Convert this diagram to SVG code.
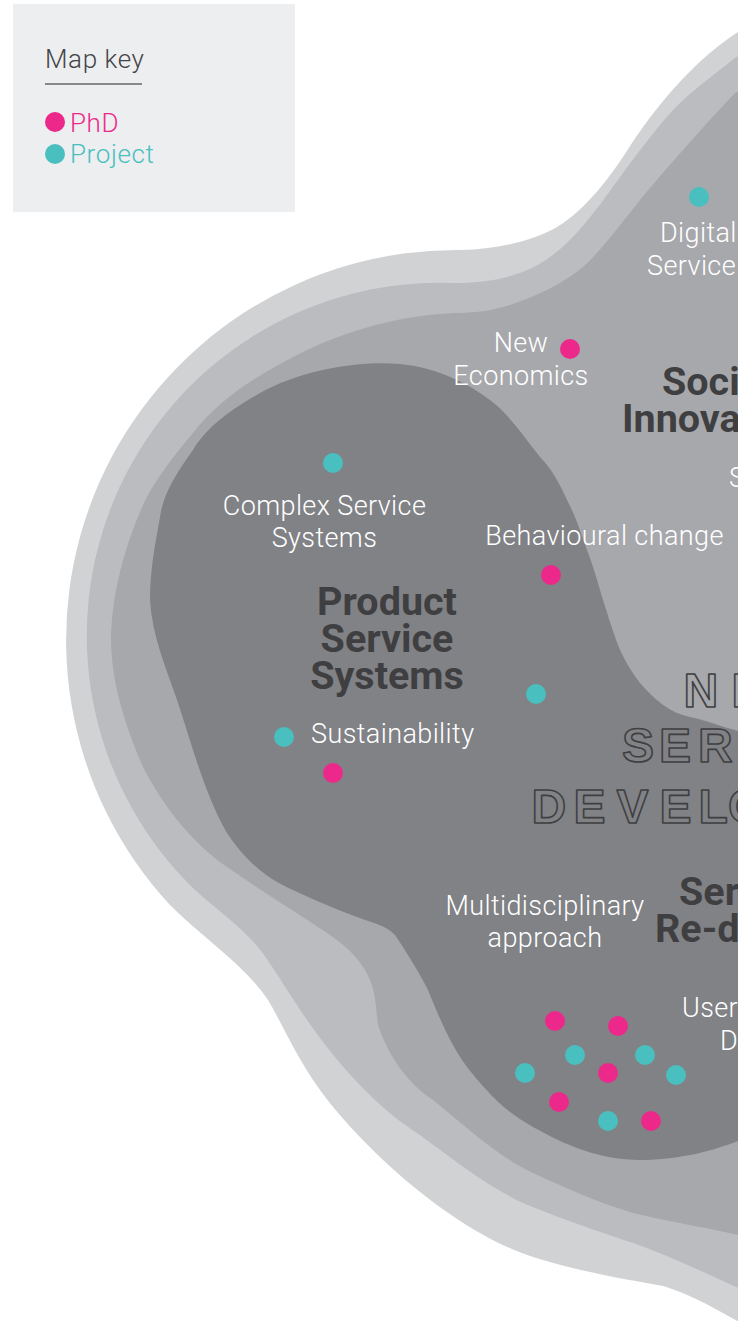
<svg xmlns="http://www.w3.org/2000/svg" width="738" height="1321" viewBox="0 0 738 1321">
<style>
.lbl{font-family:Roboto,"Liberation Sans",sans-serif;font-weight:300;font-size:27px;letter-spacing:0.4px;fill:#ffffff}
.ttl{font-family:Roboto,"Liberation Sans",sans-serif;font-weight:700;font-size:39.5px;fill:#3f3f41}
.nsd{font-family:"Liberation Sans",Arial,sans-serif;font-weight:700;font-size:48px;fill:none;stroke:#3f3f41;stroke-width:1.6;stroke-linejoin:round}
.key{font-family:Roboto,"Liberation Sans",sans-serif;font-weight:300;font-size:26px;letter-spacing:0.6px}
.phd{fill:#ec298b}
.prj{fill:#4abfbf}
.mid{text-anchor:middle}
</style>
<rect width="738" height="1321" fill="#ffffff"/>
<g id="layers">
<path id="layer1" fill="#d1d2d4" d="M760,12 L738,32 C700,56 660,100 630,146 C610,178 585,210 557,227 C535,240 500,249 460,250 A390,390 0 0 0 170,905 C205,940 245,965 268,1000 C283,1025 295,1055 320,1090 C360,1145 450,1230 533,1257 C580,1272 630,1280 663,1286 C690,1294 715,1308 760,1334 Z"/>
<path id="layer2" fill="#bbbcc0" d="M760,42 L735,58 C710,78 690,92 673,110 C655,130 640,150 623,173 C600,205 575,240 550,257 C530,272 500,283 455,283 A353,353 0 0 0 195,890 C220,912 245,930 262,952 C278,975 290,995 305,1017 C340,1068 380,1110 420,1135 C460,1165 500,1195 533,1207 C570,1222 600,1232 633,1243 C670,1256 710,1275 760,1298 Z"/>
<path id="layer3" fill="#a7a8ac" d="M760,80 L735,93 C700,130 665,170 640,200 C620,225 600,252 583,267 C565,282 540,295 510,305 C490,311 475,313 455,313 C390,316 335,335 293,357 C245,382 215,405 193,433 C170,460 152,485 143,505 C125,545 113,590 111,633 C110,680 125,725 143,767 C165,810 195,845 227,867 C260,890 300,915 327,933 C345,945 362,960 370,980 C376,995 376,1010 378,1025 C390,1060 410,1085 433,1100 C470,1130 500,1158 533,1173 C570,1190 600,1203 633,1213 C670,1222 710,1228 760,1240 Z"/>
<path id="core" fill="#818286" d="M760,737 L738,731 C720,726 705,720 690,717 C670,713 655,700 640,683 C630,670 625,660 620,650 C612,630 608,615 603,600 C597,580 593,565 587,550 C580,530 575,515 567,500 C558,480 550,467 540,457 C525,438 510,415 490,400 C470,385 440,368 400,364 C360,360 300,370 260,393 C225,413 205,430 193,450 C175,475 163,495 160,517 C155,545 150,570 150,600 C152,635 165,665 177,700 C192,745 205,795 227,833 C245,860 265,878 293,890 C320,903 350,915 377,924 C385,927 390,930 395,935 C405,950 418,970 428,990 C440,1020 452,1047 467,1067 C485,1090 505,1112 533,1127 C565,1145 600,1160 640,1160 C680,1160 715,1150 738,1141 L760,1135 Z"/>
</g>
<g id="legend">
<rect x="13" y="4" width="282" height="208" fill="#edeef0"/>
<text class="key" x="45" y="68" fill="#444446">Map key</text>
<line x1="45" y1="84" x2="142" y2="84" stroke="#666668" stroke-width="1.5"/>
<circle class="phd" cx="55" cy="122" r="10"/>
<text class="key phd" x="70" y="132">PhD</text>
<circle class="prj" cx="55" cy="154" r="10"/>
<text class="key prj" x="70" y="163">Project</text>
</g>
<g id="social-innovation">
<text class="ttl" x="662" y="395">Soci</text>
<text class="ttl" x="622" y="432">Innova</text>
<text class="lbl" x="729" y="487">S</text>
</g>
<g id="digital-services">
<circle class="prj" cx="699" cy="197" r="10"/>
<text class="lbl" x="660" y="242">Digital</text>
<text class="lbl" x="647" y="275">Service</text>
</g>
<g id="new-economics">
<text class="lbl mid" x="521" y="352">New</text>
<text class="lbl mid" x="521" y="385">Economics</text>
<circle class="phd" cx="570" cy="349" r="10"/>
</g>
<g id="complex-service-systems">
<circle class="prj" cx="333" cy="463" r="10"/>
<text class="lbl mid" x="324.5" y="515">Complex Service</text>
<text class="lbl mid" x="324.5" y="547">Systems</text>
</g>
<g id="behavioural-change">
<text class="lbl mid" x="604.5" y="545">Behavioural change</text>
<circle class="phd" cx="551" cy="575" r="10"/>
<circle class="prj" cx="536" cy="694" r="10"/>
</g>
<g id="product-service-systems">
<text class="ttl mid" x="387" y="615">Product</text>
<text class="ttl mid" x="387" y="652">Service</text>
<text class="ttl mid" x="387" y="689">Systems</text>
</g>
<g id="sustainability">
<circle class="prj" cx="284" cy="737" r="10"/>
<text class="lbl" x="311" y="743">Sustainability</text>
<circle class="phd" cx="333" cy="773" r="10"/>
</g>
<g id="new-service-development">
<text class="nsd" x="683.5 731.5" y="707">NE</text>
<text class="nsd" x="622 659 698" y="762">SER</text>
<text class="nsd" x="531.5 573.5 616.5 659.5 698.5 728" y="823">DEVELO</text>
</g>
<g id="service-redesign">
<text class="ttl" x="679" y="905">Ser</text>
<text class="ttl" x="655" y="942">Re-d</text>
</g>
<g id="multidisciplinary">
<text class="lbl mid" x="545" y="915">Multidisciplinary</text>
<text class="lbl mid" x="545" y="947">approach</text>
</g>
<g id="user-centred-design">
<text class="lbl" x="682" y="1017">User</text>
<text class="lbl" x="720" y="1050">D</text>
</g>
<g id="cluster">
<circle class="phd" cx="555" cy="1021" r="10"/>
<circle class="phd" cx="618" cy="1026" r="10"/>
<circle class="prj" cx="575" cy="1055" r="10"/>
<circle class="prj" cx="645" cy="1055" r="10"/>
<circle class="prj" cx="525" cy="1073" r="10"/>
<circle class="phd" cx="608" cy="1073" r="10"/>
<circle class="prj" cx="676" cy="1075" r="10"/>
<circle class="phd" cx="559" cy="1102" r="10"/>
<circle class="prj" cx="608" cy="1121" r="10"/>
<circle class="phd" cx="651" cy="1121" r="10"/>
</g>
</svg>
